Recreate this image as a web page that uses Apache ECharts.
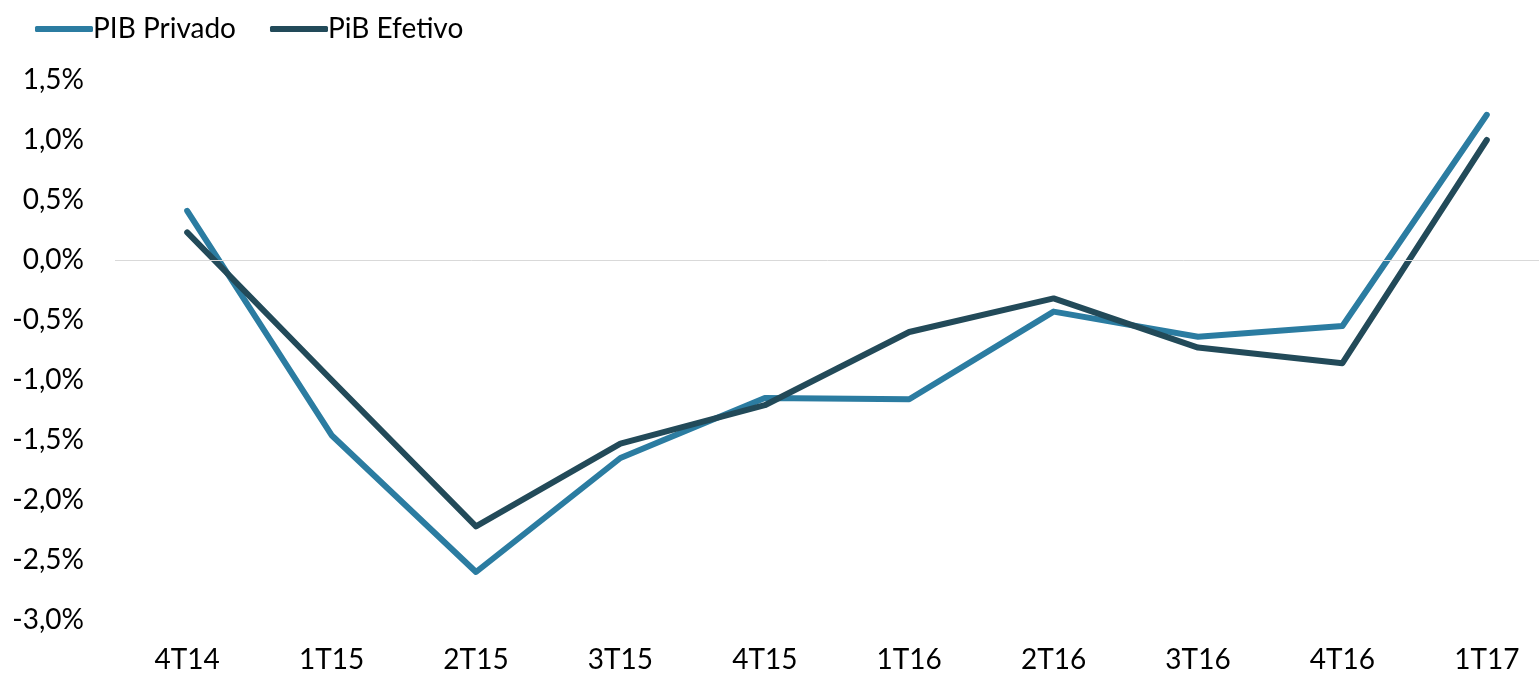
<!DOCTYPE html>
<html>
<head>
<meta charset="utf-8">
<script src="https://cdn.jsdelivr.net/npm/echarts@6/dist/echarts.min.js"></script>
<style>
  html, body { margin: 0; padding: 0; background: #fff; }
  #chart { width: 1539px; height: 673px; }
</style>
</head>
<body>
<div id="chart"></div>
<script>
const categories = ['4T14', '1T15', '2T15', '3T15', '4T15', '1T16', '2T16', '3T16', '4T16', '1T17']
const pibPrivado = [0.41, -1.46, -2.60, -1.65, -1.15, -1.16, -0.43, -0.64, -0.55, 1.21]
const pibEfetivo = [0.23, -1.00, -2.22, -1.53, -1.21, -0.60, -0.32, -0.73, -0.86, 1.00]

const fontFamily = 'Lato, "Open Sans", sans-serif'

const chart = echarts.init(document.getElementById('chart'))

function fmt(v) {
  return v.toFixed(1).replace('.', ',') + '%'
}

chart.setOption({
  animation: false,
  textStyle: { fontFamily },
  legend: {
    left: 30,
    top: 10,
    itemWidth: 58,
    itemHeight: 6,
    itemGap: 34,
    icon: 'roundRect',
    textStyle: { fontSize: 28, color: '#000', fontFamily, padding: [0, 0, 0, -5] },
    data: ['PIB Privado', 'PiB Efetivo']
  },
  grid: { left: 115, top: 80, right: -20, bottom: 53, outerBoundsMode: 'none', containLabel: false },
  xAxis: {
    type: 'category',
    data: categories,
    boundaryGap: true,
    axisLine: { show: false },
    axisTick: { show: false },
    axisLabel: { fontSize: 28, color: '#000', margin: 26, fontFamily }
  },
  yAxis: {
    type: 'value',
    min: -3,
    max: 1.5,
    interval: 0.5,
    splitLine: { show: false },
    axisLine: { show: false },
    axisTick: { show: false },
    axisLabel: { fontSize: 28, color: '#000', margin: 31, fontFamily, formatter: fmt }
  },
  series: [
    {
      name: 'PIB Privado',
      type: 'line',
      data: pibPrivado,
      symbol: 'none',
      color: '#2b7ca1',
      lineStyle: { width: 6, cap: 'round', join: 'round' },
      markLine: {
        silent: true,
        symbol: 'none',
        label: { show: false },
        lineStyle: { color: '#d9d9d9', width: 1, type: 'solid' },
        data: [{ yAxis: 0 }]
      },
      z: 2
    },
    {
      name: 'PiB Efetivo',
      type: 'line',
      data: pibEfetivo,
      symbol: 'none',
      color: '#224a59',
      lineStyle: { width: 6, cap: 'round', join: 'round' },
      z: 3
    }
  ]
})
</script>
</body>
</html>
